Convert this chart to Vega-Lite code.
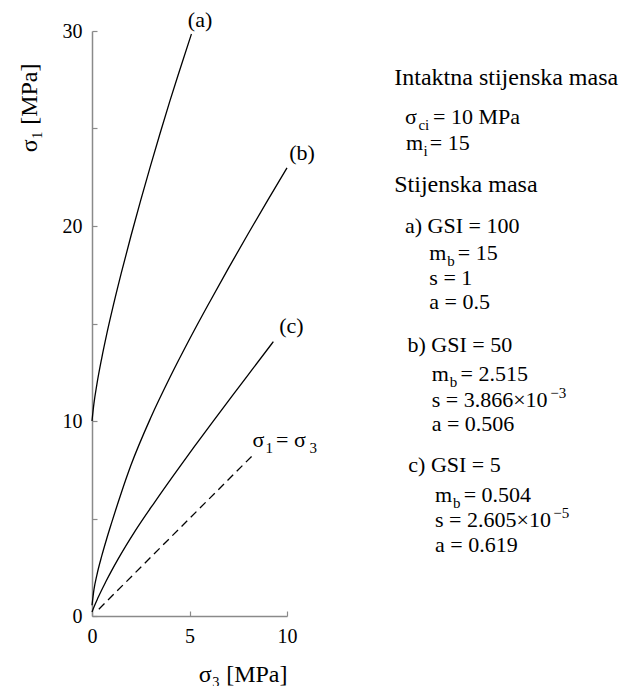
{
  "$schema": "https://vega.github.io/schema/vega-lite/v6.json",
  "width": 195,
  "height": 585,
  "autosize": {"type": "none"},
  "padding": {"left": 92, "top": 31, "right": 332, "bottom": 70},
  "background": "white",
  "config": {
    "view": {"stroke": null},
    "font": "Liberation Serif",
    "text": {"font": "Liberation Serif", "color": "black"}
  },
  "datasets": {
    "curves": [
      {"c": "a", "x": 0, "y": 10},
      {"c": "a", "x": 0.1, "y": 10.9},
      {"c": "a", "x": 0.25, "y": 11.88},
      {"c": "a", "x": 0.5, "y": 13.23},
      {"c": "a", "x": 0.75, "y": 14.43},
      {"c": "a", "x": 1.0, "y": 15.53},
      {"c": "a", "x": 1.5, "y": 17.58},
      {"c": "a", "x": 2.0, "y": 19.5},
      {"c": "a", "x": 2.5, "y": 21.33},
      {"c": "a", "x": 3.0, "y": 23.08},
      {"c": "a", "x": 3.5, "y": 24.78},
      {"c": "a", "x": 4.0, "y": 26.43},
      {"c": "a", "x": 4.5, "y": 28.0},
      {"c": "a", "x": 5.1, "y": 29.85},
      {"c": "b", "x": 0, "y": 0.55},
      {"c": "b", "x": 0.1, "y": 1.35},
      {"c": "b", "x": 0.25, "y": 2.1},
      {"c": "b", "x": 0.5, "y": 3.08},
      {"c": "b", "x": 0.75, "y": 3.95},
      {"c": "b", "x": 1.0, "y": 4.76},
      {"c": "b", "x": 1.5, "y": 6.31},
      {"c": "b", "x": 2.0, "y": 7.74},
      {"c": "b", "x": 3.0, "y": 10.14},
      {"c": "b", "x": 4.0, "y": 12.24},
      {"c": "b", "x": 5.0, "y": 14.19},
      {"c": "b", "x": 6.0, "y": 16.04},
      {"c": "b", "x": 7.0, "y": 17.84},
      {"c": "b", "x": 8.0, "y": 19.59},
      {"c": "b", "x": 9.0, "y": 21.3},
      {"c": "b", "x": 10, "y": 22.98},
      {"c": "c", "x": 0, "y": 0.2},
      {"c": "c", "x": 0.1, "y": 0.46},
      {"c": "c", "x": 0.3, "y": 0.92},
      {"c": "c", "x": 0.7, "y": 1.74},
      {"c": "c", "x": 1.35, "y": 2.94},
      {"c": "c", "x": 2.2, "y": 4.34},
      {"c": "c", "x": 3.2, "y": 5.82},
      {"c": "c", "x": 4.2, "y": 7.24},
      {"c": "c", "x": 5.2, "y": 8.62},
      {"c": "c", "x": 6.2, "y": 9.97},
      {"c": "c", "x": 7.2, "y": 11.3},
      {"c": "c", "x": 8.2, "y": 12.62},
      {"c": "c", "x": 9.3, "y": 14.07}
    ],
    "identity": [
      {"x": 0.35, "y": 0.35},
      {"x": 8.2, "y": 8.2}
    ],
    "heads": [
      {"x": 15.5, "y": 27.23, "t": "Intaktna stijenska masa"},
      {"x": 15.5, "y": 21.74, "t": "Stijenska masa"}
    ],
    "lines": [
      {"x": 16.05, "y": 25.23, "t": "σ"},
      {"x": 17.49, "y": 25.23, "t": "= 10 MPa"},
      {"x": 16.1, "y": 23.92, "t": "m"},
      {"x": 17.32, "y": 23.92, "t": "= 15"},
      {"x": 16.05, "y": 19.64, "t": "a) GSI = 100"},
      {"x": 17.3, "y": 18.26, "t": "m"},
      {"x": 18.76, "y": 18.26, "t": "= 15"},
      {"x": 17.3, "y": 16.97, "t": "s = 1"},
      {"x": 17.3, "y": 15.72, "t": "a = 0.5"},
      {"x": 16.18, "y": 13.54, "t": "b) GSI = 50"},
      {"x": 17.42, "y": 12.05, "t": "m"},
      {"x": 18.9, "y": 12.05, "t": "= 2.515"},
      {"x": 17.42, "y": 10.74, "t": "s = 3.866×10"},
      {"x": 17.42, "y": 9.5, "t": "a = 0.506"},
      {"x": 16.22, "y": 7.4, "t": "c) GSI = 5"},
      {"x": 17.59, "y": 5.86, "t": "m"},
      {"x": 19.06, "y": 5.86, "t": "= 0.504"},
      {"x": 17.59, "y": 4.54, "t": "s = 2.605×10"},
      {"x": 17.59, "y": 3.28, "t": "a = 0.619"},
      {"x": 8.23, "y": 8.65, "t": "σ"},
      {"x": 9.44, "y": 8.65, "t": "= σ"}
    ],
    "subs": [
      {"x": 16.74, "y": 25.23, "t": "ci"},
      {"x": 17.0, "y": 23.92, "t": "i"},
      {"x": 18.22, "y": 18.26, "t": "b"},
      {"x": 18.34, "y": 12.05, "t": "b"},
      {"x": 18.51, "y": 5.86, "t": "b"},
      {"x": 8.9, "y": 8.65, "t": "1"},
      {"x": 11.15, "y": 8.65, "t": "3"}
    ],
    "sups": [
      {"x": 23.5, "y": 10.74, "t": "−3"},
      {"x": 23.65, "y": 4.54, "t": "−5"}
    ],
    "curveLabels": [
      {"x": 5.54, "y": 30.2, "t": "(a)"},
      {"x": 10.77, "y": 23.36, "t": "(b)"},
      {"x": 10.23, "y": 14.5, "t": "(c)"}
    ]
  },
  "encoding": {
    "x": {
      "field": "x",
      "type": "quantitative",
      "scale": {"domain": [0, 10], "nice": false, "zero": false},
      "axis": {
        "title": "σ₃ [MPa]",
        "values": [0, 5, 10],
        "format": "d",
        "grid": false,
        "domainColor": "#8a8a8a",
        "domainWidth": 1.5,
        "tickColor": "#8a8a8a",
        "tickWidth": 1.2,
        "tickSize": -5,
        "labelFont": "Liberation Serif",
        "labelFontSize": 20,
        "labelColor": "black",
        "labelPadding": 15,
        "labelFlush": false,
        "labelOverlap": false,
        "titleFont": "Liberation Serif",
        "titleFontSize": 24,
        "titleFontWeight": "normal",
        "titleColor": "black",
        "titleX": 195,
        "titleY": 65,
        "titleAlign": "right",
        "titleBaseline": "alphabetic"
      }
    },
    "y": {
      "field": "y",
      "type": "quantitative",
      "scale": {"domain": [0, 30], "nice": false, "zero": false},
      "axis": {
        "title": "σ₁ [MPa]",
        "values": [0, 5, 10, 15, 20, 25, 30],
        "labelExpr": "datum.value % 10 === 0 ? datum.label : ''",
        "grid": false,
        "domainColor": "#8a8a8a",
        "domainWidth": 1.5,
        "tickColor": "#8a8a8a",
        "tickWidth": 1.2,
        "tickSize": -5,
        "labelFont": "Liberation Serif",
        "labelFontSize": 20,
        "labelColor": "black",
        "labelPadding": 15,
        "labelFlush": false,
        "labelOverlap": false,
        "titleFont": "Liberation Serif",
        "titleFontSize": 24,
        "titleFontWeight": "normal",
        "titleColor": "black",
        "titleAngle": -90,
        "titleX": -56,
        "titleY": 32,
        "titleAlign": "right",
        "titleBaseline": "alphabetic"
      }
    }
  },
  "layer": [
    {
      "data": {"name": "curves"},
      "mark": {"type": "line", "color": "black", "strokeWidth": 1.3, "interpolate": "monotone"},
      "encoding": {"detail": {"field": "c", "type": "nominal"}}
    },
    {
      "data": {"name": "identity"},
      "mark": {"type": "line", "color": "black", "strokeWidth": 1.3, "strokeDash": [8, 5]},
      "encoding": {}
    },
    {
      "data": {"name": "heads"},
      "mark": {"type": "text", "fontSize": 24, "align": "left", "baseline": "alphabetic"},
      "encoding": {"text": {"field": "t"}}
    },
    {
      "data": {"name": "lines"},
      "mark": {"type": "text", "fontSize": 22, "align": "left", "baseline": "alphabetic"},
      "encoding": {"text": {"field": "t"}}
    },
    {
      "data": {"name": "subs"},
      "mark": {"type": "text", "fontSize": 15, "align": "left", "baseline": "alphabetic", "dy": 6},
      "encoding": {"text": {"field": "t"}}
    },
    {
      "data": {"name": "sups"},
      "mark": {"type": "text", "fontSize": 15, "align": "left", "baseline": "alphabetic", "dy": -9},
      "encoding": {"text": {"field": "t"}}
    },
    {
      "data": {"name": "curveLabels"},
      "mark": {"type": "text", "fontSize": 22, "align": "center", "baseline": "alphabetic"},
      "encoding": {"text": {"field": "t"}}
    }
  ]
}
